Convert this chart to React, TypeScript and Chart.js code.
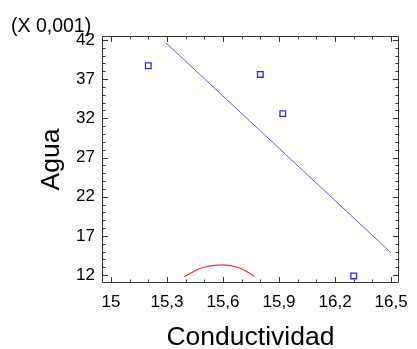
import React, { useEffect, useRef } from 'react';
import { Chart, registerables } from 'chart.js';

Chart.register(...registerables);

// ---- data ----
const xTickValues = [15, 15.3, 15.6, 15.9, 16.2, 16.5];
const yTickValues = [12, 17, 22, 27, 32, 37, 42];
const conductividad = [15.2, 15.8, 15.92, 16.3];
const agua = [38.7, 37.6, 32.6, 11.9];
const fitX = [15.293, 16.5];
const fitY = [41.66, 14.85];
const bandX = [15.392, 15.491, 15.597, 15.685, 15.768];
const bandY = [11.79, 12.98, 13.32, 12.94, 11.87];
const xTitle = 'Conductividad';
const yTitle = 'Agua';
const multiplierLabel = '(X 0,001)';

const FONT = "'Liberation Sans', Arial, sans-serif";

const fmt = (v: number) =>
  Number.isInteger(v) ? String(v) : v.toFixed(1).replace('.', ',');

const framePlugin = {
  id: 'frame',
  afterDraw(chart: any) {
    const { ctx, chartArea: a, scales } = chart;
    const x = scales.x;
    const y = scales.y;
    ctx.save();
    ctx.strokeStyle = '#333';
    ctx.lineWidth = 1;
    ctx.beginPath();
    ctx.rect(Math.round(a.left) + 0.5, Math.round(a.top) + 0.5, Math.round(a.width) - 1, Math.round(a.height) - 1);
    ctx.stroke();
    ctx.beginPath();
    for (let i = 150; i <= 165; i++) {
      const v = i / 10;
      const px = Math.round(x.getPixelForValue(v)) + 0.5;
      const len = (i - 150) % 3 === 0 ? 6 : 3.5;
      ctx.moveTo(px, a.bottom);
      ctx.lineTo(px, a.bottom - len);
      ctx.moveTo(px, a.top);
      ctx.lineTo(px, a.top + len);
    }
    for (let i = 12; i <= 42; i++) {
      const py = Math.round(y.getPixelForValue(i)) + 0.5;
      const len = (i - 12) % 5 === 0 ? 6 : 3.5;
      ctx.moveTo(a.left, py);
      ctx.lineTo(a.left + len, py);
      ctx.moveTo(a.right, py);
      ctx.lineTo(a.right - len, py);
    }
    ctx.stroke();
    ctx.fillStyle = '#000';
    ctx.font = `19.5px ${FONT}`;
    ctx.textAlign = 'left';
    ctx.textBaseline = 'alphabetic';
    ctx.fillText(multiplierLabel, 11, 32);
    ctx.restore();
  },
};

export default function App() {
  const ref = useRef<HTMLCanvasElement | null>(null);
  useEffect(() => {
    if (!ref.current) return;
    const chart = new Chart(ref.current, {
      type: 'scatter',
      data: {
        datasets: [
          {
            label: 'fit',
            data: fitX.map((v, i) => ({ x: v, y: fitY[i] })),
            showLine: true,
            borderColor: '#5a5aff',
            borderWidth: 1,
            pointRadius: 0,
          },
          {
            label: 'band',
            data: bandX.map((v, i) => ({ x: v, y: bandY[i] })),
            showLine: true,
            borderColor: '#ff2a2a',
            borderWidth: 1.2,
            pointRadius: 0,
            tension: 0.4,
          },
          {
            label: 'obs',
            data: conductividad.map((v, i) => ({ x: v, y: agua[i] })),
            pointStyle: 'rect',
            pointRadius: 4,
            borderColor: '#2a2aff',
            backgroundColor: 'rgba(0,0,0,0)',
            borderWidth: 1.3,
          },
        ],
      },
      options: {
        responsive: false,
        animation: false,
        layout: { padding: { top: 36, right: 15, left: 0, bottom: 0 } },
        plugins: { legend: { display: false }, tooltip: { enabled: false } },
        scales: {
          x: {
            type: 'linear',
            min: 14.952,
            max: 16.542,
            afterBuildTicks: (s: any) => {
              s.ticks = xTickValues.map((v) => ({ value: v }));
            },
            afterFit: (s: any) => {
              s.height = 66;
            },
            grid: { display: false, drawTicks: false },
            border: { display: false },
            ticks: {
              callback: (v: any) => fmt(Number(v)),
              font: { family: FONT, size: 17 },
              color: '#000',
              padding: 9,
              maxRotation: 0,
              autoSkip: false,
            },
            title: {
              display: true,
              text: xTitle,
              color: '#000',
              font: { family: FONT, size: 26.5, lineHeight: 1 },
              padding: { top: 0, bottom: -1.5 },
            },
          },
          y: {
            type: 'linear',
            min: 11,
            max: 42.5,
            afterBuildTicks: (s: any) => {
              s.ticks = yTickValues.map((v) => ({ value: v }));
            },
            afterFit: (s: any) => {
              s.width = 102;
            },
            grid: { display: false, drawTicks: false },
            border: { display: false },
            ticks: {
              callback: (v: any) => fmt(Number(v)),
              font: { family: FONT, size: 17 },
              color: '#000',
              padding: 7,
              autoSkip: false,
            },
            title: {
              display: true,
              text: yTitle,
              color: '#000',
              font: { family: FONT, size: 26.5, lineHeight: 1 },
              padding: { top: 38.5, bottom: 0 },
            },
          },
        },
      },
      plugins: [framePlugin],
    } as any);
    return () => chart.destroy();
  }, []);
  return (
    <div style={{ position: 'fixed', left: 0, top: 0, width: 417, height: 349, background: '#fff' }}>
      <canvas ref={ref} width={417} height={349} style={{ display: 'block' }} />
    </div>
  );
}
